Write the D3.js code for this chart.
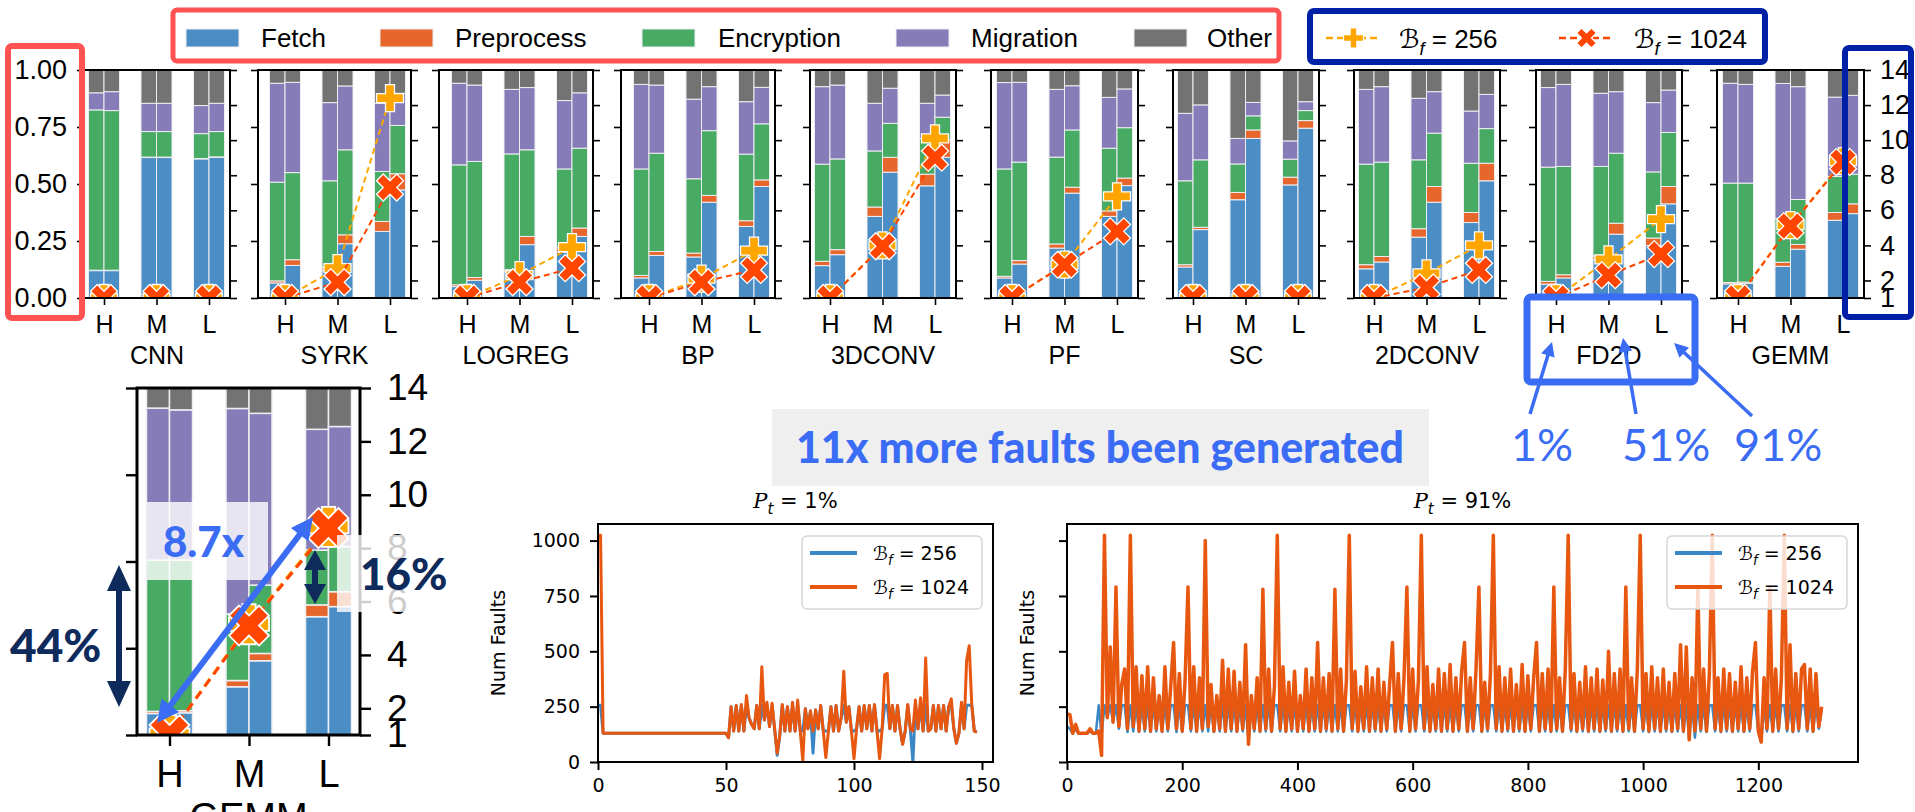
<!DOCTYPE html>
<html>
<head>
<meta charset="utf-8">
<script src="https://cdn.jsdelivr.net/npm/d3@7"></script>
<style>
  body { margin: 0; background: #fff; }
  svg { display: block; }
</style>
</head>
<body>
<svg id="fig" width="1915" height="812"></svg>
<script>
// ---------------- data ----------------
const benchmarks = ["CNN", "SYRK", "LOGREG", "BP", "3DCONV", "PF", "SC", "2DCONV", "FD2D", "GEMM"];
const levels = ["H", "M", "L"];
const parts = ["Fetch", "Preprocess", "Encryption", "Migration", "Other"];

// cumulative share at the top of Fetch, Preprocess, Encryption, Migration (Other fills to 1)
// one row per benchmark, entries for H, M, L
const shares256 = [
  [[0.12, 0.122, 0.825, 0.90], [0.616, 0.618, 0.73, 0.854], [0.61, 0.612, 0.721, 0.844]],
  [[0.066, 0.075, 0.508, 0.942], [0.12, 0.135, 0.514, 0.857], [0.292, 0.336, 0.555, 0.854]],
  [[0.05, 0.058, 0.584, 0.942], [0.115, 0.124, 0.632, 0.915], [0.2, 0.22, 0.566, 0.866]],
  [[0.088, 0.099, 0.566, 0.937], [0.18, 0.197, 0.523, 0.872], [0.314, 0.339, 0.631, 0.861]],
  [[0.142, 0.161, 0.587, 0.927], [0.358, 0.399, 0.645, 0.854], [0.492, 0.543, 0.70, 0.854]],
  [[0.088, 0.095, 0.566, 0.945], [0.219, 0.237, 0.618, 0.915], [0.358, 0.382, 0.657, 0.88]],
  [[0.136, 0.146, 0.514, 0.81], [0.431, 0.463, 0.588, 0.70], [0.496, 0.53, 0.609, 0.689]],
  [[0.128, 0.146, 0.587, 0.915], [0.267, 0.304, 0.606, 0.876], [0.331, 0.375, 0.591, 0.82]],
  [[0.061, 0.073, 0.574, 0.923], [0.168, 0.185, 0.577, 0.898], [0.23, 0.263, 0.553, 0.857]],
  [[0.062, 0.068, 0.504, 0.942], [0.139, 0.157, 0.349, 0.941], [0.341, 0.375, 0.533, 0.881]]
];
const shares1024 = [
  [[0.12, 0.122, 0.822, 0.905], [0.616, 0.618, 0.73, 0.854], [0.617, 0.619, 0.73, 0.854]],
  [[0.143, 0.168, 0.55, 0.946], [0.238, 0.277, 0.65, 0.93], [0.474, 0.545, 0.757, 0.898]],
  [[0.078, 0.09, 0.599, 0.934], [0.234, 0.27, 0.65, 0.923], [0.27, 0.307, 0.657, 0.90]],
  [[0.187, 0.204, 0.635, 0.934], [0.42, 0.45, 0.734, 0.927], [0.489, 0.518, 0.764, 0.924]],
  [[0.19, 0.212, 0.61, 0.934], [0.552, 0.617, 0.766, 0.92], [0.617, 0.693, 0.793, 0.89]],
  [[0.149, 0.164, 0.596, 0.946], [0.46, 0.486, 0.737, 0.931], [0.493, 0.526, 0.747, 0.917]],
  [[0.30, 0.31, 0.606, 0.847], [0.70, 0.737, 0.799, 0.858], [0.745, 0.778, 0.822, 0.861]],
  [[0.158, 0.182, 0.596, 0.927], [0.42, 0.489, 0.723, 0.905], [0.514, 0.591, 0.743, 0.893]],
  [[0.088, 0.102, 0.577, 0.937], [0.28, 0.328, 0.635, 0.905], [0.413, 0.489, 0.726, 0.912]],
  [[0.064, 0.07, 0.504, 0.937], [0.214, 0.235, 0.432, 0.927], [0.37, 0.413, 0.543, 0.889]]
];

// normalized number of faults (right axis), H, M, L
const faults256 = [
  [1, 1, 1], [1, 2.7, 12.4], [1, 2.3, 3.9], [1, 2.1, 3.7], [1, 4.0, 10.1],
  [1, 2.9, 6.8], [1, 1, 1], [1, 2.4, 4.0], [1, 3.2, 5.5], [1, 5.15, 8.8]
];
const faults1024 = [
  [1, 1, 1], [1, 1.9, 7.3], [1, 1.9, 2.7], [1, 1.9, 2.6], [1, 3.95, 9.0],
  [1, 2.9, 4.8], [1, 1, 1], [1, 1.6, 2.6], [1, 2.3, 3.5], [1, 5.1, 8.75]
];

const shareTicks = [0, 0.25, 0.5, 0.75, 1];
const faultTicks = [1, 2, 4, 6, 8, 10, 12, 14];

// P_t = 1% : faults per step (steps 0..148)
const lowFaults256 = [
  256, 256, 130, 130, 130, 130, 130, 130, 130, 130, 130, 130, 130, 130, 130, 130, 130, 130, 130, 130,
  130, 130, 130, 130, 130, 130, 130, 130, 130, 130, 130, 130, 130, 130, 130, 130, 130, 130, 130, 130,
  130, 130, 130, 130, 130, 130, 130, 130, 130, 130, 130,
  110, 250, 140, 255, 140, 256, 140, 256, 200, 170,
  150, 255, 150, 256, 190, 256, 160, 256, 150, 30,
  120, 256, 140, 250, 140, 256, 140, 256, 140, 140,
  240, 150, 230, 40, 235, 150, 255, 140, 140, 140,
  250, 140, 255, 140, 200, 256, 180, 250, 140, 140,
  150, 250, 140, 255, 150, 255, 140, 256, 140, 140,
  150, 256, 256, 150, 255, 140, 255, 150, 80, 140,
  256, 150, 0, 256, 150, 256, 140, 256, 140, 150,
  255, 140, 255, 150, 255, 140, 250, 256, 150, 85,
  130, 256, 150, 256, 256, 256, 140, 135
];
const lowFaults1024 = [
  1024, 1024, 130, 130, 130, 130, 130, 130, 130, 130, 130, 130, 130, 130, 130, 130, 130, 130, 130, 130,
  130, 130, 130, 130, 130, 130, 130, 130, 130, 130, 130, 130, 130, 130, 130, 130, 130, 130, 130, 130,
  130, 130, 130, 130, 130, 130, 130, 130, 130, 130, 130,
  110, 250, 140, 255, 140, 260, 140, 300, 200, 170,
  150, 255, 150, 430, 190, 270, 160, 265, 150, 40,
  120, 260, 140, 250, 140, 270, 140, 280, 140, 5,
  240, 150, 230, 140, 235, 150, 255, 140, 20, 140,
  250, 140, 255, 140, 200, 410, 180, 250, 140, 15,
  150, 250, 140, 255, 150, 255, 140, 260, 140, 15,
  150, 395, 400, 150, 255, 140, 255, 150, 80, 140,
  260, 150, 140, 280, 150, 290, 140, 470, 140, 150,
  255, 140, 255, 150, 255, 140, 250, 285, 150, 85,
  130, 270, 150, 460, 525, 260, 140, 135
];

// P_t = 91% : faults read every 5 steps (steps 0..1310)
const highFaults256 = [
  160, 150, 128, 150, 128, 128, 128, 128, 140, 128, 128, 256, 120, 256, 200, 256, 180, 256, 150, 256,
  256, 135, 256, 138, 256, 135, 256, 138, 256, 135, 256, 138, 256, 135, 256, 138, 256, 256, 135, 256,
  135, 256, 256, 138, 256, 135, 256, 138, 256, 138, 256, 135, 256, 138, 256, 135, 256, 138, 256, 135,
  256, 138, 256, 95, 256, 138, 256, 135, 256, 138, 256, 135, 256, 256, 138, 256, 135, 256, 138, 256,
  135, 256, 138, 256, 135, 256, 138, 256, 135, 256, 138, 256, 135, 256, 138, 256, 135, 256, 256, 138,
  256, 135, 256, 138, 256, 135, 256, 138, 256, 135, 256, 138, 256, 256, 135, 256, 138, 256, 256, 135,
  256, 138, 256, 256, 138, 256, 135, 256, 138, 256, 135, 256, 138, 256, 135, 256, 138, 256, 256, 135,
  256, 138, 256, 256, 135, 256, 138, 256, 256, 138, 256, 135, 256, 138, 256, 135, 256, 138, 256, 135,
  256, 138, 256, 256, 135, 256, 138, 256, 135, 256, 138, 256, 135, 256, 256, 138, 256, 135, 256, 138,
  256, 135, 256, 138, 256, 135, 256, 138, 256, 135, 256, 138, 256, 135, 256, 138, 256, 135, 256, 256,
  138, 256, 135, 256, 138, 256, 135, 256, 138, 256, 135, 256, 138, 256, 135, 256, 100, 256, 110, 256,
  138, 256, 135, 256, 256, 138, 256, 135, 256, 138, 256, 135, 256, 138, 256, 135, 256, 138, 256, 256,
  135, 90, 256, 138, 256, 135, 256, 138, 256, 256, 138, 256, 135, 256, 138, 256, 256, 138, 256, 135,
  256, 150, 240
];
const highFaults1024 = [
  216, 215, 130, 170, 130, 130, 130, 130, 150, 130, 130, 140, 30, 1024, 200, 520, 180, 790, 160, 350,
  420, 150, 1024, 160, 430, 140, 390, 150, 430, 140, 380, 150, 300, 140, 430, 150, 340, 540, 150, 400,
  140, 370, 790, 150, 430, 140, 380, 150, 1000, 160, 350, 140, 300, 150, 460, 140, 420, 150, 410, 140,
  360, 150, 530, 80, 300, 150, 380, 140, 780, 150, 420, 140, 340, 1024, 150, 430, 140, 360, 150, 410,
  140, 300, 150, 420, 140, 380, 150, 540, 140, 380, 150, 400, 140, 780, 150, 420, 140, 370, 1024, 150,
  410, 140, 340, 150, 430, 140, 380, 150, 420, 140, 360, 150, 350, 540, 140, 400, 150, 380, 790, 140,
  420, 150, 370, 1024, 150, 430, 140, 350, 150, 420, 140, 400, 150, 440, 140, 380, 150, 410, 540, 140,
  380, 150, 420, 790, 140, 360, 150, 400, 1024, 150, 430, 140, 380, 150, 420, 140, 350, 150, 440, 140,
  390, 150, 380, 540, 140, 400, 150, 420, 140, 790, 150, 380, 140, 420, 1024, 150, 400, 140, 360, 150,
  430, 140, 380, 150, 420, 140, 370, 150, 500, 140, 400, 150, 420, 140, 790, 150, 380, 140, 420, 1024,
  150, 400, 140, 430, 150, 380, 140, 420, 150, 360, 140, 400, 150, 530, 140, 520, 100, 380, 140, 790,
  150, 420, 140, 400, 1024, 150, 380, 140, 420, 150, 400, 140, 360, 150, 430, 140, 380, 150, 410, 540,
  140, 90, 380, 150, 790, 140, 420, 150, 380, 1024, 150, 530, 140, 400, 150, 420, 440, 150, 420, 140,
  400, 160, 250
];
const lowSteps = d3.range(lowFaults1024.length);
const highSteps = d3.range(highFaults1024.length).map(i => i * 5);
const lowTicksX = [0, 50, 100, 150];
const highTicksX = [0, 200, 400, 600, 800, 1000, 1200];
const numFaultTicks = [0, 250, 500, 750, 1000];

// ---------------- styles ----------------
const partColor = {
  Fetch: "#4a8ec5", Preprocess: "#e6662b", Encryption: "#47ab64",
  Migration: "#857cb8", Other: "#737373"
};
const c256 = "#ffa500", c1024 = "#ff4500";
const lineBlue = "#3a87c6", lineOrange = "#e8570f";
const annBlue = "#3a6cf4", navy = "#0e2b5c";
const fontBar = "'Liberation Sans', Arial, sans-serif";
const fontPlt = "'DejaVu Sans', sans-serif";
const fontGeo = "Lato, 'Open Sans', sans-serif";

const svg = d3.select("#fig");
const defs = svg.append("defs");

function plusPath(w) { return d3.symbol(d3.symbolCross, 5 * (w / 3) ** 2)(); }
function crossPath(w) { return d3.symbol(d3.symbolCross, 5 * (w / 2.83) ** 2)(); }

function drawMarker(g, kind, cx, cy, w, edge) {
  g.append("path")
    .attr("d", kind === "plus" ? plusPath(w) : crossPath(w))
    .attr("transform", `translate(${cx},${cy})` + (kind === "plus" ? "" : " rotate(45)"))
    .attr("fill", kind === "plus" ? c256 : c1024)
    .attr("stroke", "#fff").attr("stroke-width", edge);
}

function styleAxis(sel, size, family, strokeW) {
  sel.select(".domain").remove();
  sel.selectAll(".tick line").attr("stroke", "#000").attr("stroke-width", strokeW);
  sel.selectAll(".tick text").attr("fill", "#000");
  sel.attr("font-size", size).attr("font-family", family);
}

// ---------------- stacked panels ----------------
let clipId = 0;
function drawPanel(b, geo) {
  const g = svg.append("g");
  const x = d3.scaleLinear().domain([0, 2]).range([geo.hc, geo.hc + 2 * geo.step]);
  const yS = d3.scaleLinear().domain([0, 1]).range([geo.bottom, geo.top]);
  const yF = d3.scaleLinear().domain([1, 14]).range([geo.bottom, geo.top]);
  const left = geo.hc - geo.padL, right = geo.hc + 2 * geo.step + geo.padR;

  [shares256, shares1024].forEach((set, j) => {
    set[b].forEach((bounds, i) => {
      const edges = [0, ...bounds, 1];
      parts.forEach((p, k) => {
        g.append("rect")
          .attr("x", x(i) - geo.barW + j * geo.barW)
          .attr("y", yS(edges[k + 1]))
          .attr("width", geo.barW)
          .attr("height", yS(edges[k]) - yS(edges[k + 1]))
          .attr("fill", partColor[p])
          .attr("stroke", "#eeeef2").attr("stroke-width", geo.edge);
      });
    });
  });

  const id = "clip" + (clipId++);
  defs.append("clipPath").attr("id", id).append("rect")
    .attr("x", left).attr("y", geo.top - 30).attr("width", right - left).attr("height", geo.bottom - geo.top + 30);
  const lg = g.append("g").attr("clip-path", `url(#${id})`);
  const line = d3.line().x((d, i) => x(i)).y(d => yF(d));
  [[faults256, c256, "plus"], [faults1024, c1024, "cross"]].forEach(([set, col, kind]) => {
    lg.append("path").datum(set[b]).attr("d", line)
      .attr("fill", "none").attr("stroke", col).attr("stroke-width", geo.lineW)
      .attr("stroke-dasharray", geo.dash);
    set[b].forEach((v, i) => drawMarker(lg, kind, x(i), yF(v), geo.marker, geo.edge + 0.3));
  });

  g.append("rect").attr("x", left).attr("y", geo.top)
    .attr("width", right - left).attr("height", geo.bottom - geo.top)
    .attr("fill", "none").attr("stroke", "#000").attr("stroke-width", geo.spine);

  const axL = g.append("g").attr("transform", `translate(${left},0)`)
    .call(d3.axisLeft(yS).tickValues(shareTicks).tickSize(geo.tick).tickPadding(geo.pad)
      .tickFormat(geo.leftLabels ? d3.format(".2f") : ""));
  styleAxis(axL, geo.numFont, fontBar, geo.spine * 0.8);

  const axR = g.append("g").attr("transform", `translate(${right},0)`)
    .call(d3.axisRight(yF).tickValues(faultTicks).tickSize(geo.tick).tickPadding(geo.padR2)
      .tickFormat(geo.rightLabels ? d3.format("d") : ""));
  styleAxis(axR, geo.numFont, fontBar, geo.spine * 0.8);

  const axB = g.append("g").attr("transform", `translate(0,${geo.bottom})`)
    .call(d3.axisBottom(x).tickValues([0, 1, 2]).tickSize(geo.tick).tickPadding(geo.padB)
      .tickFormat(i => levels[i]));
  styleAxis(axB, geo.lvlFont, fontBar, geo.spine * 0.8);

  g.append("text").attr("x", (left + right) / 2).attr("y", geo.nameY)
    .attr("text-anchor", "middle").attr("font-family", fontBar).attr("font-size", geo.nameFont)
    .text(benchmarks[b]);
}

const panelH = [104, 285, 467, 649, 830, 1012, 1193, 1374, 1556, 1738];
const panelPadL = [20, 27, 28, 28, 20, 21, 20, 20, 20, 21];
benchmarks.forEach((name, b) => {
  drawPanel(b, {
    hc: panelH[b], step: 52.5, top: 70, bottom: 298, padL: panelPadL[b], padR: 21,
    barW: 15.5, edge: 1, marker: 27, lineW: 2, dash: "6,4", spine: 2, tick: 7,
    pad: 10, padR2: 9, padB: 10, numFont: 27, lvlFont: 25, nameFont: 25, nameY: 364,
    leftLabels: b === 0, rightLabels: b === benchmarks.length - 1
  });
});

// enlarged copy of GEMM
drawPanel(9, {
  hc: 169.5, step: 79.5, top: 388, bottom: 735, padL: 32.5, padR: 31.5,
  barW: 23, edge: 1.5, marker: 40, lineW: 3, dash: "9,6", spine: 3, tick: 11,
  pad: 14, padR2: 16, padB: 14, numFont: 37, lvlFont: 38, nameFont: 38, nameY: 830,
  leftLabels: false, rightLabels: true
});

// ---------------- top legends & frames ----------------
const legX = [186, 380, 642, 896, 1134];
const legTextX = [261, 455, 718, 971, 1207];
parts.forEach((p, i) => {
  svg.append("rect").attr("x", legX[i]).attr("y", 29).attr("width", 53).attr("height", 18)
    .attr("fill", partColor[p]).attr("stroke", "#eeeef2").attr("stroke-width", 1);
  svg.append("text").attr("x", legTextX[i]).attr("y", 47)
    .attr("font-family", fontBar).attr("font-size", 26).text(p);
});

function bfText(parent, x, y, size, value, family) {
  const t = parent.append("text").attr("x", x).attr("y", y)
    .attr("font-family", family).attr("font-size", size);
  t.append("tspan").attr("font-family", "'DejaVu Sans', sans-serif").attr("font-style", "italic").text("ℬ");
  t.append("tspan").attr("font-size", size * 0.7).attr("font-style", "italic").attr("dy", size * 0.25).text("f");
  t.append("tspan").attr("dy", -size * 0.25).text(" = " + value);
  return t;
}

[[1326, 1381, c256, "plus", "256", 1399], [1559, 1614, c1024, "cross", "1024", 1634]].forEach(([x0, x1, col, kind, val, tx]) => {
  svg.append("line").attr("x1", x0).attr("x2", x1).attr("y1", 38).attr("y2", 38)
    .attr("stroke", col).attr("stroke-width", 2.5).attr("stroke-dasharray", "7,4");
  drawMarker(svg, kind, (x0 + x1) / 2, 38, 20, 1.2);
  bfText(svg, tx, 48, 26, val, fontBar);
});

const frames = [
  [8, 46, 74, 272, "#ff5252", 6],
  [173, 10, 1106, 51, "#ff5252", 5],
  [1310, 11, 455, 51, "#0021a5", 6],
  [1845, 48, 66, 269, "#0021a5", 6],
  [1527, 297, 168, 85, annBlue, 7]
];
frames.forEach(([x, y, w, h, col, sw]) => {
  svg.append("rect").attr("x", x).attr("y", y).attr("width", w).attr("height", h)
    .attr("rx", 4).attr("fill", "none").attr("stroke", col).attr("stroke-width", sw);
});

// ---------------- arrows & annotations ----------------
function arrow(x0, y0, x1, y1, col, w, headL, headW, both) {
  const a = Math.atan2(y1 - y0, x1 - x0);
  const ux = Math.cos(a), uy = Math.sin(a);
  const sx = both ? x0 + ux * headL * 0.8 : x0, sy = both ? y0 + uy * headL * 0.8 : y0;
  svg.append("line").attr("x1", sx).attr("y1", sy)
    .attr("x2", x1 - ux * headL * 0.8).attr("y2", y1 - uy * headL * 0.8)
    .attr("stroke", col).attr("stroke-width", w);
  const head = (tx, ty, dx, dy) => {
    const bx = tx - dx * headL, by = ty - dy * headL;
    svg.append("path")
      .attr("d", `M${tx},${ty}L${bx - dy * headW / 2},${by + dx * headW / 2}L${bx + dy * headW / 2},${by - dx * headW / 2}Z`)
      .attr("fill", col);
  };
  head(x1, y1, ux, uy);
  if (both) head(x0, y0, -ux, -uy);
}

// level labels under FD2D
[["1%", 1511, 1530, 414, 1552, 342], ["51%", 1622, 1636, 414, 1623, 338], ["91%", 1734, 1752, 416, 1674, 343]]
  .forEach(([label, tx, ax0, ay0, ax1, ay1]) => {
    arrow(ax0, ay0, ax1, ay1, annBlue, 3.5, 14, 14, false);
    svg.append("text").attr("x", tx).attr("y", 461).attr("font-family", fontGeo)
      .attr("font-size", 45).attr("fill", annBlue).text(label);
  });

svg.append("rect").attr("x", 772).attr("y", 409).attr("width", 657).attr("height", 77).attr("fill", "#efefef");
const big = svg.append("text").attr("x", 796).attr("y", 463).attr("font-family", fontGeo)
  .attr("font-weight", 900).attr("font-size", 40).attr("fill", "#3b6cf6")
  .text("11x more faults been generated");
const bigLen = big.node().getComputedTextLength();
big.attr("font-size", 40 * 608 / bigLen);

// inset highlights
svg.append("rect").attr("x", 147).attr("y", 502).attr("width", 121).attr("height", 78)
  .attr("fill", "#fff").attr("opacity", 0.8);
svg.append("rect").attr("x", 337).attr("y", 535).attr("width", 115).attr("height", 77)
  .attr("fill", "#fff").attr("opacity", 0.8);

svg.append("text").attr("x", 163).attr("y", 557).attr("font-family", fontGeo).attr("font-weight", 900)
  .attr("font-size", 42).attr("fill", annBlue).text("8.7x");
arrow(157, 723, 313, 517, annBlue, 6, 22, 22, true);
arrow(119, 565, 119, 707, navy, 6, 26, 24, true);
arrow(315, 550, 315, 604, navy, 6, 20, 22, true);
svg.append("text").attr("x", 10).attr("y", 662).attr("font-family", fontGeo).attr("font-weight", 900)
  .attr("font-size", 46).attr("fill", navy).text("44%");
svg.append("text").attr("x", 360).attr("y", 590).attr("font-family", fontGeo).attr("font-weight", 900)
  .attr("font-size", 44).attr("fill", navy).text("16%");

// ---------------- fault time series ----------------
function drawSeries(cfg) {
  const g = svg.append("g");
  const x = d3.scaleLinear().domain(cfg.xDomain).range([cfg.left, cfg.right]);
  const y = d3.scaleLinear().domain([0, 1075]).range([cfg.bottom, cfg.top]);
  const id = "clip" + (clipId++);
  defs.append("clipPath").attr("id", id).append("rect")
    .attr("x", cfg.left).attr("y", cfg.top).attr("width", cfg.right - cfg.left).attr("height", cfg.bottom - cfg.top);
  const lg = g.append("g").attr("clip-path", `url(#${id})`);
  [[cfg.s256, lineBlue, cfg.wBlue], [cfg.s1024, lineOrange, cfg.wOrange]].forEach(([vals, col, w]) => {
    lg.append("path").datum(vals)
      .attr("d", d3.line().x((d, i) => x(cfg.steps[i])).y(d => y(d)))
      .attr("fill", "none").attr("stroke", col).attr("stroke-width", w).attr("stroke-linejoin", "round");
  });
  g.append("rect").attr("x", cfg.left).attr("y", cfg.top)
    .attr("width", cfg.right - cfg.left).attr("height", cfg.bottom - cfg.top)
    .attr("fill", "none").attr("stroke", "#000").attr("stroke-width", 2);

  const ax = g.append("g").attr("transform", `translate(0,${cfg.bottom})`)
    .call(d3.axisBottom(x).tickValues(cfg.xTicks).tickSize(8).tickPadding(9).tickFormat(d3.format("d")));
  styleAxis(ax, 19, fontPlt, 2);
  const ay = g.append("g").attr("transform", `translate(${cfg.left},0)`)
    .call(d3.axisLeft(y).tickValues(numFaultTicks).tickSize(8).tickPadding(10)
      .tickFormat(cfg.yLabels ? d3.format("d") : ""));
  styleAxis(ay, 19, fontPlt, 2);

  g.append("text").attr("transform", `translate(${cfg.labelX},${(cfg.top + cfg.bottom) / 2}) rotate(-90)`)
    .attr("text-anchor", "middle").attr("font-family", fontPlt).attr("font-size", 19).text("Num Faults");

  const t = g.append("text").attr("x", (cfg.left + cfg.right) / 2).attr("y", 508)
    .attr("text-anchor", "middle").attr("font-family", fontPlt).attr("font-size", 21);
  t.append("tspan").attr("font-family", "'DejaVu Serif', serif").attr("font-style", "italic").text("P");
  t.append("tspan").attr("font-size", 15).attr("font-style", "italic").attr("dy", 6).text("t");
  t.append("tspan").attr("dy", -6).text(" = " + cfg.title);

  const lx = cfg.right - 191, ly = 536;
  g.append("rect").attr("x", lx).attr("y", ly).attr("width", 180).attr("height", 73).attr("rx", 5)
    .attr("fill", "#fff").attr("fill-opacity", 0.8).attr("stroke", "#d6d6d6").attr("stroke-width", 1.5);
  [[lineBlue, "256", 17], [lineOrange, "1024", 51]].forEach(([col, val, dy]) => {
    g.append("line").attr("x1", lx + 8).attr("x2", lx + 55).attr("y1", ly + dy).attr("y2", ly + dy)
      .attr("stroke", col).attr("stroke-width", 4);
    bfText(g, lx + 71, ly + dy + 7, 19, val, fontPlt);
  });
}

drawSeries({
  left: 598, right: 993, top: 524, bottom: 762, xDomain: [0, 154.3],
  steps: lowSteps, s256: lowFaults256, s1024: lowFaults1024, wBlue: 3, wOrange: 3,
  xTicks: lowTicksX, yLabels: true, labelX: 505, title: "1%"
});
drawSeries({
  left: 1067, right: 1858, top: 524, bottom: 762, xDomain: [0, 1373],
  steps: highSteps, s256: highFaults256, s1024: highFaults1024, wBlue: 2.5, wOrange: 3.5,
  xTicks: highTicksX, yLabels: false, labelX: 1034, title: "91%"
});
</script>
</body>
</html>
